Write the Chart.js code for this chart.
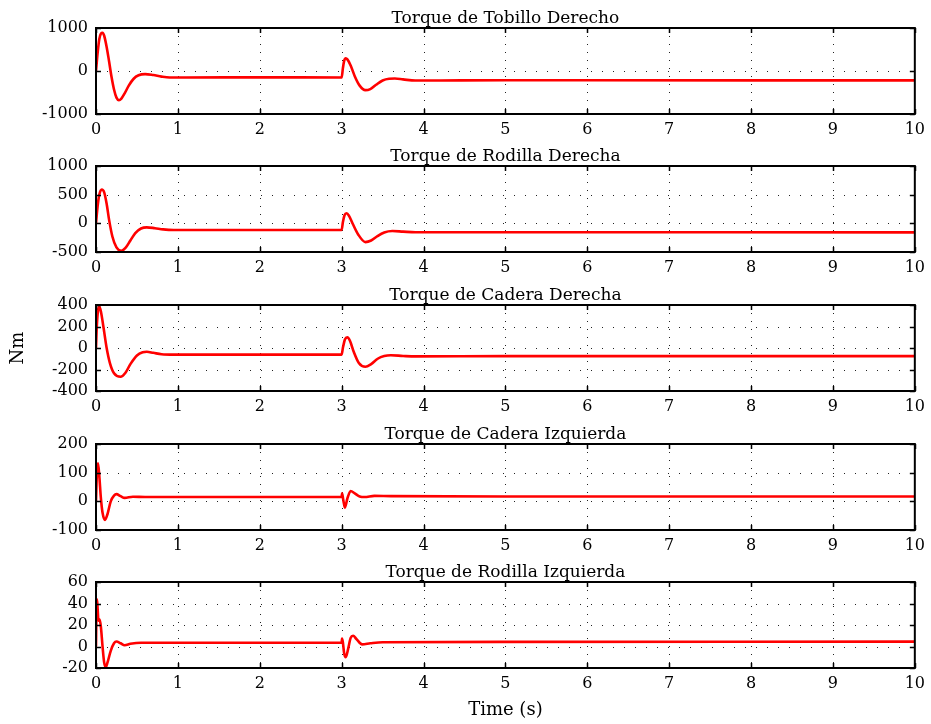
<!DOCTYPE html>
<html>
<head>
<meta charset="utf-8">
<script src="https://cdn.jsdelivr.net/npm/chart.js@4.4.1/dist/chart.umd.min.js"></script>
<style>
  html, body { margin: 0; padding: 0; background: #ffffff; }
  #wrap { position: relative; width: 931px; height: 724px; overflow: hidden; }
  #wrap canvas { position: absolute; left: 0; }
</style>
</head>
<body>
<div id="wrap"></div>
<script>
// Joint torque time histories (time in s, torque in Nm)
const panelTitles = [
  'Torque de Tobillo Derecho',
  'Torque de Rodilla Derecha',
  'Torque de Cadera Derecha',
  'Torque de Cadera Izquierda',
  'Torque de Rodilla Izquierda'
];

const tTobilloDer = [0, 0.02, 0.04, 0.06, 0.08, 0.1, 0.13, 0.16, 0.19, 0.22, 0.25, 0.28, 0.31, 0.35, 0.4, 0.46, 0.52, 0.6, 0.7, 0.8, 0.9, 1.1, 2, 3,
  3.015, 3.03, 3.05, 3.07, 3.11, 3.16, 3.22, 3.29, 3.35, 3.42, 3.5, 3.58, 3.65, 3.75, 3.9, 4.2, 5, 6, 8, 10];
const tqTobilloDer = [0, 420, 740, 870, 890, 820, 560, 220, -140, -430, -620, -680, -640, -520, -340, -180, -100, -72, -95, -130, -150, -150, -148, -150,
  60, 230, 295, 270, 130, -120, -340, -445, -420, -320, -220, -180, -175, -195, -222, -220, -215, -215, -217, -217];

const tRodillaDer = [0, 0.02, 0.04, 0.07, 0.1, 0.13, 0.16, 0.2, 0.25, 0.31, 0.36, 0.42, 0.48, 0.55, 0.62, 0.72, 0.82, 0.95, 2, 3,
  3.015, 3.035, 3.06, 3.09, 3.14, 3.2, 3.29, 3.36, 3.43, 3.52, 3.62, 3.75, 3.9, 5, 10];
const tqRodillaDer = [0, 300, 500, 590, 540, 340, 60, -230, -420, -480, -430, -300, -170, -90, -70, -85, -105, -115, -115, -115,
  20, 140, 176, 130, -20, -190, -327, -300, -230, -160, -135, -145, -155, -155, -157];

const tCaderaDer = [0, 0.01, 0.025, 0.04, 0.06, 0.09, 0.13, 0.17, 0.22, 0.3, 0.36, 0.42, 0.5, 0.57, 0.62, 0.7, 0.8, 0.95, 2, 3,
  3.015, 3.04, 3.07, 3.1, 3.15, 3.21, 3.29, 3.36, 3.44, 3.52, 3.6, 3.75, 3.9, 5, 10];
const tqCaderaDer = [0, 200, 350, 385, 340, 200, 0, -140, -235, -268, -230, -150, -70, -40, -35, -45, -58, -62, -62, -62,
  0, 80, 99, 70, -40, -140, -175, -150, -100, -75, -68, -74, -78, -76, -76];

const tCaderaIzq = [0, 0.01, 0.024, 0.04, 0.06, 0.08, 0.11, 0.14, 0.18, 0.22, 0.25, 0.3, 0.35, 0.45, 0.6, 3,
  3.005, 3.02, 3.04, 3.07, 3.11, 3.16, 3.22, 3.28, 3.4, 3.6, 5, 10];
const tqCaderaIzq = [0, 90, 133, 90, 10, -40, -65, -45, 0, 20, 25, 18, 12, 16, 15, 15,
  28, 5, -22, 10, 36, 28, 17, 15, 19, 18, 17, 17];

const tRodillaIzq = [0, 0.005, 0.012, 0.02, 0.03, 0.045, 0.06, 0.08, 0.1, 0.12, 0.14, 0.18, 0.22, 0.25, 0.3, 0.35, 0.42, 0.55, 1, 3,
  3.005, 3.015, 3.03, 3.05, 3.08, 3.11, 3.14, 3.18, 3.25, 3.35, 3.5, 5, 10];
const tqRodillaIzq = [0, 30, 44, 35, 24, 25, 18, 0, -15, -19, -15, -4, 3, 4.6, 3, 1.2, 2.5, 3.5, 3.5, 3.5,
  7.5, 4, -6, -10, -2, 8, 10, 7, 2, 3, 4, 4.3, 4.5];

// Axis limits and tick spacing for each panel
const yMins  = [-1000, -500, -400, -100, -20];
const yMaxs  = [1000, 1000, 400, 200, 60];
const ySteps = [1000, 500, 200, 100, 20];
const xMin = 0, xMax = 10, xStep = 1;

const panelTimes  = [tTobilloDer, tRodillaDer, tCaderaDer, tCaderaIzq, tRodillaIzq];
const panelValues = [tqTobilloDer, tqRodillaDer, tqCaderaDer, tqCaderaIzq, tqRodillaIzq];

// ---- layout ----
const W = 931, H = 724;
const PLOT_LEFT = 96, PLOT_RIGHT = 918;
const plotTops = [28, 166, 305, 444, 582];
const PLOT_H = 86;
const TITLE_SPACE = 24;
const AXIS_SPACE = 28;
const SERIF = "'DejaVu Serif', 'Liberation Serif', serif";

Chart.defaults.font.family = SERIF;
Chart.defaults.color = '#000';

// Dotted grid, boxed axes with inward ticks, and the panel title
const matlabFrame = {
  id: 'matlabFrame',
  beforeDatasetsDraw(chart) {
    const { ctx, chartArea: a, scales: { x, y } } = chart;
    ctx.save();
    ctx.strokeStyle = '#222';
    ctx.lineWidth = 1;
    ctx.setLineDash([1, 7]);
    x.ticks.forEach(tk => {
      const px = Math.round(x.getPixelForValue(tk.value)) + 0.5;
      if (px <= a.left + 2 || px >= a.right - 2) return;
      ctx.beginPath(); ctx.moveTo(px, a.top); ctx.lineTo(px, a.bottom); ctx.stroke();
    });
    ctx.setLineDash([1, 10]);
    y.ticks.forEach(tk => {
      const py = Math.round(y.getPixelForValue(tk.value)) + 0.5;
      if (py <= a.top + 2 || py >= a.bottom - 2) return;
      ctx.beginPath(); ctx.moveTo(a.left, py); ctx.lineTo(a.right, py); ctx.stroke();
    });
    ctx.restore();
  },
  afterDatasetsDraw(chart, args, opts) {
    const { ctx, chartArea: a, scales: { x, y } } = chart;
    ctx.save();
    ctx.setLineDash([]);
    ctx.strokeStyle = '#000';
    ctx.lineWidth = 1.5;
    const TL = 5;
    x.ticks.forEach(tk => {
      const px = Math.round(x.getPixelForValue(tk.value)) + 0.5;
      ctx.beginPath();
      ctx.moveTo(px, a.bottom); ctx.lineTo(px, a.bottom - TL);
      ctx.moveTo(px, a.top); ctx.lineTo(px, a.top + TL);
      ctx.stroke();
    });
    y.ticks.forEach(tk => {
      const py = Math.round(y.getPixelForValue(tk.value)) + 0.5;
      ctx.beginPath();
      ctx.moveTo(a.left, py); ctx.lineTo(a.left + TL, py);
      ctx.moveTo(a.right, py); ctx.lineTo(a.right - TL, py);
      ctx.stroke();
    });
    ctx.lineWidth = 2;
    ctx.strokeRect(a.left, a.top, a.right - a.left, a.bottom - a.top);
    // panel title centred over the axes
    ctx.fillStyle = '#000';
    ctx.font = '17px ' + SERIF;
    ctx.textAlign = 'center';
    ctx.textBaseline = 'alphabetic';
    ctx.fillText(opts.text, (a.left + a.right) / 2, a.top - 5);
    ctx.restore();
  }
};

const wrap = document.getElementById('wrap');

panelTitles.forEach((title, i) => {
  const last = i === panelTitles.length - 1;
  const top = plotTops[i] - TITLE_SPACE;
  const bottomSpace = last ? (H - (plotTops[i] + PLOT_H)) : AXIS_SPACE;
  const height = TITLE_SPACE + PLOT_H + bottomSpace;

  const canvas = document.createElement('canvas');
  canvas.width = W;
  canvas.height = height;
  canvas.style.width = W + 'px';
  canvas.style.height = height + 'px';
  canvas.style.top = top + 'px';
  wrap.appendChild(canvas);

  const points = panelTimes[i].map((t, k) => ({ x: t, y: panelValues[i][k] }));

  new Chart(canvas, {
    type: 'line',
    data: {
      datasets: [{
        data: points,
        borderColor: '#ff0000',
        borderWidth: 2.6,
        pointRadius: 0,
        fill: false,
        cubicInterpolationMode: 'monotone'
      }]
    },
    options: {
      responsive: false,
      animation: false,
      events: [],
      layout: { padding: { left: 0, right: W - PLOT_RIGHT, top: TITLE_SPACE, bottom: 0 } },
      plugins: {
        legend: { display: false },
        tooltip: { enabled: false },
        title: { display: false },
        matlabFrame: { text: title }
      },
      scales: {
        x: {
          type: 'linear',
          min: xMin, max: xMax,
          grid: { display: false, drawTicks: false },
          border: { display: false },
          ticks: {
            stepSize: xStep,
            autoSkip: false,
            padding: 6,
            maxRotation: 0,
            font: { size: 16 },
            color: '#000',
            callback: v => String(v)
          },
          title: {
            display: last,
            text: 'Time (s)',
            font: { size: 18 },
            color: '#000',
            padding: { top: 0, bottom: 3 }
          },
          afterFit: s => { s.height = bottomSpace; }
        },
        y: {
          type: 'linear',
          min: yMins[i], max: yMaxs[i],
          grid: { display: false, drawTicks: false },
          border: { display: false },
          ticks: {
            stepSize: ySteps[i],
            autoSkip: false,
            padding: 8,
            font: { size: 16, lineHeight: 1 },
            color: '#000',
            callback: v => String(v)
          },
          title: {
            display: i === 2,
            text: 'Nm',
            font: { size: 18 },
            color: '#000',
            padding: { top: 8, bottom: 0 }
          },
          afterFit: s => { s.width = PLOT_LEFT; }
        }
      }
    },
    plugins: [matlabFrame]
  });
});
</script>
</body>
</html>
